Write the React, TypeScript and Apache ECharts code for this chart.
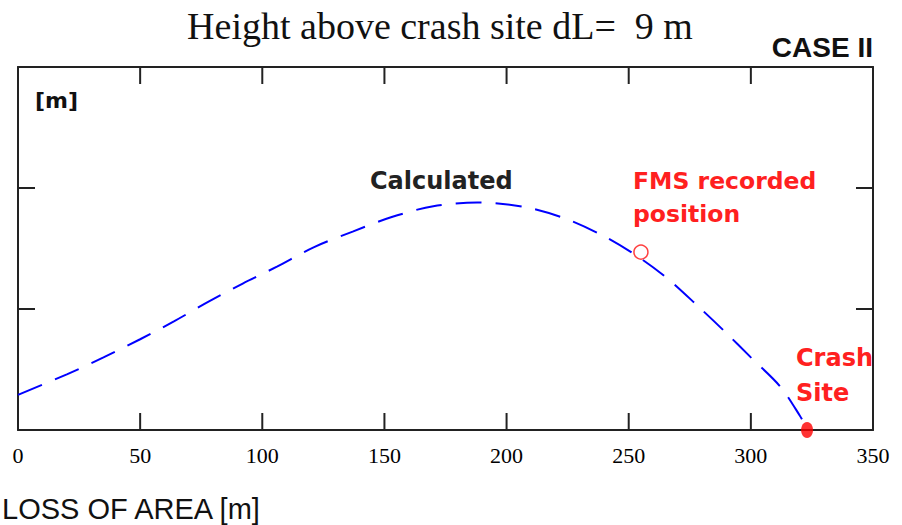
import React, { useEffect, useRef } from "react";
import * as echarts from "echarts";

const xTicks = [0, 50, 100, 150, 200, 250, 300, 350];
const yTicks = [0, 10, 20, 30];
const curveX = [0, 20, 35, 50, 64, 78, 92, 106, 121, 137, 153, 170, 188, 208, 225, 240, 254, 266, 278, 289, 300, 312, 320, 323];
const curveY = [2.9, 4.6, 6.0, 7.5, 9.0, 10.6, 12.1, 13.5, 15.1, 16.4, 17.6, 18.5, 18.8, 18.4, 17.4, 16.0, 14.3, 12.5, 10.3, 8.2, 6.0, 3.6, 1.2, 0.1];
const fmsPoint = [255, 14.7];
const crashPoint = [323, 0];
const titleText = "Height above crash site dL=  9 m";
const xAxisName = "LOSS OF AREA [m]";
const caseText = "CASE II";
const unitText = "[m]";
const calcLabel = "Calculated";
const fmsLabel = ["FMS recorded", "position"];
const crashLabel = ["Crash", "Site"];

const X_MIN = xTicks[0];
const X_MAX = xTicks[xTicks.length - 1];
const Y_MIN = yTicks[0];
const Y_MAX = yTicks[yTicks.length - 1];
const TICK_LEN = 17;

export default function App() {
  const ref = useRef<HTMLDivElement>(null);
  useEffect(() => {
    if (!ref.current) return;
    const chart = echarts.init(ref.current, null, { renderer: "svg" });
    const axisLine = () => ({ show: true, onZero: false, lineStyle: { color: "#222", width: 2 } });
    const sans = "DejaVu Sans";
    const t = (x: number, y: number, text: string, font: string, size: number, color: string, weight: any = "normal", align = "left") => ({
      type: "text",
      x,
      y,
      z: 50,
      style: { text, fontFamily: font, fontSize: size, fill: color, fontWeight: weight, align, verticalAlign: "middle" },
    });
    const texts = [
      t(440, 26, titleText, "Liberation Serif", 38, "#111", "normal", "center"),
      t(873, 47, caseText, "Liberation Sans", 28, "#111", "bold", "right"),
      t(35, 100, unitText, sans, 22, "#111", "bold"),
      t(370, 181, calcLabel, sans, 24, "#222", "bold"),
      t(633, 181, fmsLabel[0], sans, 23.5, "#ff2020", "bold"),
      t(633, 214, fmsLabel[1], sans, 23.5, "#ff2020", "bold"),
      t(796, 358, crashLabel[0], sans, 24, "#ff2020", "bold"),
      t(796, 393, crashLabel[1], sans, 24, "#ff2020", "bold"),
      t(2, 509, xAxisName, "Liberation Sans", 29, "#111", "normal"),
    ];
    chart.setOption({
      animation: false,
      backgroundColor: "#fff",
      grid: { left: 18, right: 29, top: 67, bottom: 95, show: false },
      xAxis: [
        {
          type: "value", min: X_MIN, max: X_MAX, interval: 50, position: "bottom",
          axisLine: axisLine(), axisTick: { show: false }, splitLine: { show: false },
          axisLabel: { show: true, margin: 14, fontFamily: "Liberation Serif", fontSize: 22, color: "#000",
            formatter: (v: number) => (xTicks.includes(v) ? String(v) : "") },
        },
        {
          type: "value", min: X_MIN, max: X_MAX, interval: 50, position: "top",
          axisLine: axisLine(), axisTick: { show: false }, splitLine: { show: false }, axisLabel: { show: false },
        },
      ],
      yAxis: [
        { type: "value", min: Y_MIN, max: Y_MAX, interval: 10, position: "left", axisLine: axisLine(), axisTick: { show: false }, splitLine: { show: false }, axisLabel: { show: false } },
        { type: "value", min: Y_MIN, max: Y_MAX, interval: 10, position: "right", axisLine: axisLine(), axisTick: { show: false }, splitLine: { show: false }, axisLabel: { show: false } },
      ],
      series: [
        {
          type: "line",
          data: curveX.map((x, i) => [x, curveY[i]]),
          smooth: 0.3,
          showSymbol: false,
          lineStyle: { color: "#0000ff", width: 2, type: [26, 14] },
          z: 2,
        },
        {
          type: "scatter",
          data: [fmsPoint],
          symbol: "circle",
          symbolSize: 14,
          itemStyle: { color: "rgba(255,255,255,0)", borderColor: "#ff1010", borderWidth: 1.5 },
          z: 3,
        },
        {
          type: "scatter",
          data: [crashPoint],
          symbol: "circle",
          symbolSize: [12, 16],
          itemStyle: { color: "#ff0000" },
          z: 3,
        },
      ],
      graphic: texts,
    });

    // Tick marks on all four sides, positioned through the chart's own scales.
    const finder = { xAxisIndex: 0, yAxisIndex: 0 };
    const tickStyle = { stroke: "#222", lineWidth: 2 };
    const ticks: any[] = [];
    xTicks.slice(1, -1).forEach((v) => {
      const b = chart.convertToPixel(finder, [v, Y_MIN]) as number[];
      const tp = chart.convertToPixel(finder, [v, Y_MAX]) as number[];
      ticks.push({ type: "line", z: 40, shape: { x1: b[0], y1: b[1], x2: b[0], y2: b[1] - TICK_LEN }, style: tickStyle });
      ticks.push({ type: "line", z: 40, shape: { x1: tp[0], y1: tp[1], x2: tp[0], y2: tp[1] + TICK_LEN }, style: tickStyle });
    });
    yTicks.slice(1, -1).forEach((v) => {
      const l = chart.convertToPixel(finder, [X_MIN, v]) as number[];
      const r = chart.convertToPixel(finder, [X_MAX, v]) as number[];
      ticks.push({ type: "line", z: 40, shape: { x1: l[0], y1: l[1], x2: l[0] + TICK_LEN, y2: l[1] }, style: tickStyle });
      ticks.push({ type: "line", z: 40, shape: { x1: r[0], y1: r[1], x2: r[0] - TICK_LEN, y2: r[1] }, style: tickStyle });
    });
    chart.setOption({ graphic: [...texts, ...ticks] }, { replaceMerge: ["graphic"] });

    return () => chart.dispose();
  }, []);
  return <div ref={ref} style={{ width: 902, height: 525, position: "absolute", left: 0, top: 0 }} />;
}
